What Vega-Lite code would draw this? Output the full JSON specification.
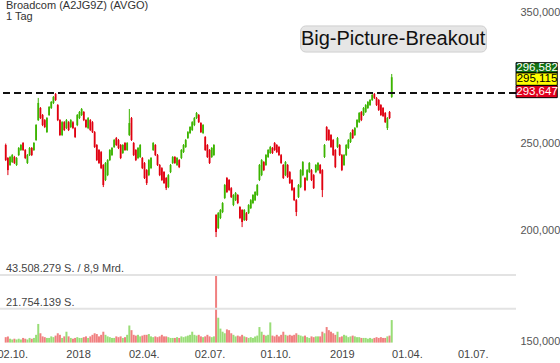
{
"$schema":"https://vega.github.io/schema/vega-lite/v6.json",
"width":516,"height":345,
"autosize":{"type":"none"},
"padding":{"left":0,"top":0,"right":44,"bottom":18},
"background":"white",
"config":{"view":{"stroke":null},"font":"Liberation Sans"},
"datasets":{"ohlc":[
{"d":"2017-09-23","o":249.1,"h":250.0,"l":239.0,"c":239.6,"v":3.5},
{"d":"2017-09-26","o":240.9,"h":241.5,"l":230.5,"c":233.5,"v":4},
{"d":"2017-09-29","o":236.6,"h":242.2,"l":236.0,"c":241.5,"v":2.5},
{"d":"2017-10-02","o":238.4,"h":243.4,"l":237.8,"c":242.7,"v":2},
{"d":"2017-10-05","o":241.5,"h":242.2,"l":237.2,"c":237.8,"v":2.5},
{"d":"2017-10-08","o":236.6,"h":241.5,"l":236.0,"c":240.9,"v":2},
{"d":"2017-10-11","o":242.7,"h":247.8,"l":242.1,"c":247.2,"v":2.5},
{"d":"2017-10-14","o":245.9,"h":249.7,"l":245.3,"c":249.1,"v":2},
{"d":"2017-10-17","o":250.4,"h":251.0,"l":245.3,"c":245.9,"v":3},
{"d":"2017-10-20","o":245.9,"h":246.5,"l":240.2,"c":240.9,"v":2.5},
{"d":"2017-10-23","o":237.8,"h":243.4,"l":237.2,"c":242.7,"v":2},
{"d":"2017-10-26","o":242.7,"h":247.8,"l":242.1,"c":247.2,"v":3},
{"d":"2017-10-29","o":247.2,"h":247.8,"l":242.1,"c":242.7,"v":2.5},
{"d":"2017-11-01","o":245.9,"h":251.0,"l":245.3,"c":250.4,"v":3},
{"d":"2017-11-04","o":252.3,"h":262.9,"l":251.7,"c":262.2,"v":5},
{"d":"2017-11-07","o":265.6,"h":281.2,"l":265.0,"c":277.6,"v":12},
{"d":"2017-11-10","o":274.0,"h":274.7,"l":266.3,"c":267.0,"v":6},
{"d":"2017-11-13","o":269.1,"h":269.8,"l":261.5,"c":262.2,"v":4},
{"d":"2017-11-16","o":265.6,"h":266.3,"l":260.2,"c":260.9,"v":3.5},
{"d":"2017-11-19","o":257.5,"h":267.7,"l":256.9,"c":267.0,"v":3},
{"d":"2017-11-22","o":269.1,"h":275.4,"l":268.4,"c":274.7,"v":3},
{"d":"2017-11-25","o":274.0,"h":279.0,"l":273.3,"c":278.3,"v":4},
{"d":"2017-11-28","o":277.6,"h":282.6,"l":276.8,"c":281.9,"v":3.5},
{"d":"2017-12-01","o":284.0,"h":284.8,"l":279.0,"c":279.7,"v":4.5},
{"d":"2017-12-04","o":276.1,"h":276.8,"l":264.9,"c":265.6,"v":6},
{"d":"2017-12-07","o":265.6,"h":266.3,"l":254.9,"c":255.6,"v":5},
{"d":"2017-12-10","o":255.6,"h":264.9,"l":254.9,"c":264.2,"v":3},
{"d":"2017-12-13","o":264.2,"h":264.9,"l":258.2,"c":258.9,"v":4},
{"d":"2017-12-16","o":260.2,"h":266.3,"l":259.5,"c":265.6,"v":7},
{"d":"2017-12-19","o":264.2,"h":264.9,"l":258.2,"c":258.9,"v":4},
{"d":"2017-12-22","o":260.9,"h":266.3,"l":260.2,"c":265.6,"v":3},
{"d":"2017-12-25","o":264.2,"h":264.9,"l":259.5,"c":260.2,"v":2.5},
{"d":"2017-12-28","o":260.2,"h":260.9,"l":253.6,"c":254.3,"v":3},
{"d":"2017-12-31","o":262.2,"h":269.8,"l":261.5,"c":269.1,"v":3.5},
{"d":"2018-01-03","o":267.0,"h":271.9,"l":266.3,"c":271.2,"v":3},
{"d":"2018-01-06","o":269.1,"h":274.0,"l":268.4,"c":273.3,"v":3},
{"d":"2018-01-09","o":271.2,"h":271.9,"l":264.9,"c":265.6,"v":3.5},
{"d":"2018-01-12","o":265.6,"h":266.3,"l":260.2,"c":260.9,"v":4},
{"d":"2018-01-15","o":260.2,"h":267.7,"l":259.5,"c":267.0,"v":3},
{"d":"2018-01-18","o":265.6,"h":266.3,"l":258.2,"c":258.9,"v":4},
{"d":"2018-01-21","o":264.2,"h":264.9,"l":256.9,"c":257.5,"v":5},
{"d":"2018-01-24","o":257.5,"h":258.2,"l":247.2,"c":247.8,"v":6},
{"d":"2018-01-27","o":249.1,"h":249.7,"l":239.0,"c":239.6,"v":5.5},
{"d":"2018-01-30","o":245.9,"h":246.5,"l":237.2,"c":237.8,"v":4},
{"d":"2018-02-02","o":244.6,"h":245.3,"l":234.1,"c":234.7,"v":5},
{"d":"2018-02-05","o":236.6,"h":237.2,"l":223.5,"c":224.7,"v":7},
{"d":"2018-02-08","o":227.6,"h":238.4,"l":227.0,"c":237.8,"v":5},
{"d":"2018-02-11","o":230.5,"h":240.2,"l":229.9,"c":239.6,"v":4},
{"d":"2018-02-14","o":239.6,"h":246.5,"l":239.0,"c":245.9,"v":3.5},
{"d":"2018-02-17","o":242.7,"h":247.8,"l":242.1,"c":247.2,"v":3},
{"d":"2018-02-20","o":247.8,"h":253.0,"l":247.2,"c":252.3,"v":3},
{"d":"2018-02-23","o":253.6,"h":254.3,"l":248.5,"c":249.1,"v":4},
{"d":"2018-02-26","o":252.3,"h":253.0,"l":246.5,"c":247.2,"v":3.5},
{"d":"2018-03-01","o":249.1,"h":249.7,"l":240.2,"c":240.9,"v":4},
{"d":"2018-03-04","o":244.0,"h":249.7,"l":243.4,"c":249.1,"v":3},
{"d":"2018-03-07","o":250.4,"h":251.0,"l":245.3,"c":245.9,"v":3.5},
{"d":"2018-03-10","o":245.9,"h":251.0,"l":245.3,"c":250.4,"v":5},
{"d":"2018-03-13","o":255.6,"h":273.3,"l":254.9,"c":263.6,"v":11},
{"d":"2018-03-16","o":267.0,"h":267.7,"l":251.7,"c":252.3,"v":8},
{"d":"2018-03-19","o":250.4,"h":251.0,"l":242.1,"c":242.7,"v":5},
{"d":"2018-03-22","o":245.9,"h":246.5,"l":239.0,"c":239.6,"v":4.5},
{"d":"2018-03-25","o":240.9,"h":247.8,"l":240.2,"c":247.2,"v":5},
{"d":"2018-03-28","o":241.5,"h":249.7,"l":240.9,"c":249.1,"v":4},
{"d":"2018-03-31","o":240.9,"h":241.5,"l":234.1,"c":234.7,"v":4.5},
{"d":"2018-04-03","o":237.8,"h":238.4,"l":228.2,"c":228.8,"v":5},
{"d":"2018-04-06","o":233.5,"h":234.1,"l":224.7,"c":225.8,"v":5},
{"d":"2018-04-09","o":230.5,"h":240.2,"l":229.9,"c":239.6,"v":5.5},
{"d":"2018-04-12","o":234.7,"h":241.5,"l":234.1,"c":240.9,"v":4},
{"d":"2018-04-15","o":245.9,"h":251.0,"l":245.3,"c":250.4,"v":3.5},
{"d":"2018-04-18","o":249.1,"h":249.7,"l":242.1,"c":242.7,"v":4},
{"d":"2018-04-21","o":242.7,"h":243.4,"l":236.0,"c":236.6,"v":3.5},
{"d":"2018-04-24","o":236.6,"h":237.2,"l":229.9,"c":230.5,"v":4},
{"d":"2018-04-27","o":234.7,"h":235.3,"l":227.0,"c":227.6,"v":5},
{"d":"2018-04-30","o":232.3,"h":232.9,"l":225.3,"c":225.8,"v":4},
{"d":"2018-05-03","o":228.8,"h":229.4,"l":221.8,"c":222.9,"v":4},
{"d":"2018-05-06","o":223.5,"h":231.1,"l":222.9,"c":230.5,"v":3.5},
{"d":"2018-05-09","o":232.3,"h":237.2,"l":231.7,"c":236.6,"v":3},
{"d":"2018-05-12","o":237.8,"h":242.1,"l":237.2,"c":241.5,"v":3},
{"d":"2018-05-15","o":241.5,"h":242.1,"l":237.2,"c":237.8,"v":3},
{"d":"2018-05-18","o":236.6,"h":241.5,"l":236.0,"c":240.9,"v":3.5},
{"d":"2018-05-21","o":239.6,"h":240.2,"l":234.7,"c":235.3,"v":3},
{"d":"2018-05-24","o":240.9,"h":246.5,"l":240.2,"c":245.9,"v":4},
{"d":"2018-05-27","o":244.6,"h":249.7,"l":244.0,"c":249.1,"v":3.5},
{"d":"2018-05-30","o":247.8,"h":253.0,"l":247.2,"c":252.3,"v":4},
{"d":"2018-06-02","o":253.6,"h":258.2,"l":253.0,"c":257.5,"v":4.5},
{"d":"2018-06-05","o":256.9,"h":261.5,"l":256.2,"c":260.9,"v":5},
{"d":"2018-06-08","o":258.9,"h":264.9,"l":258.2,"c":264.2,"v":7},
{"d":"2018-06-11","o":262.2,"h":267.7,"l":261.5,"c":267.0,"v":5},
{"d":"2018-06-14","o":267.0,"h":271.2,"l":266.3,"c":270.5,"v":4.5},
{"d":"2018-06-17","o":269.1,"h":269.8,"l":263.6,"c":264.2,"v":5},
{"d":"2018-06-20","o":263.6,"h":264.2,"l":256.9,"c":257.5,"v":4},
{"d":"2018-06-23","o":256.9,"h":262.9,"l":256.2,"c":262.2,"v":3.5},
{"d":"2018-06-26","o":254.3,"h":254.9,"l":245.3,"c":245.9,"v":4},
{"d":"2018-06-29","o":249.1,"h":249.7,"l":240.9,"c":241.5,"v":5},
{"d":"2018-07-02","o":245.9,"h":246.5,"l":237.2,"c":237.8,"v":4},
{"d":"2018-07-05","o":241.5,"h":247.8,"l":240.9,"c":247.2,"v":3.5},
{"d":"2018-07-08","o":242.7,"h":249.7,"l":242.1,"c":249.1,"v":4},
{"d":"2018-07-11","o":208.0,"h":208.5,"l":196.5,"c":199.1,"v":43.5},
{"d":"2018-07-14","o":201.1,"h":209.6,"l":200.6,"c":209.0,"v":16},
{"d":"2018-07-17","o":206.4,"h":211.2,"l":205.8,"c":210.7,"v":9},
{"d":"2018-07-20","o":209.6,"h":215.0,"l":209.0,"c":214.5,"v":7},
{"d":"2018-07-23","o":217.3,"h":225.3,"l":216.7,"c":224.7,"v":6},
{"d":"2018-07-26","o":228.8,"h":229.4,"l":220.1,"c":220.7,"v":8.5},
{"d":"2018-07-29","o":227.6,"h":228.2,"l":221.2,"c":221.8,"v":8},
{"d":"2018-08-01","o":222.9,"h":223.5,"l":217.3,"c":217.8,"v":6},
{"d":"2018-08-04","o":213.4,"h":219.5,"l":212.8,"c":219.0,"v":5},
{"d":"2018-08-07","o":216.1,"h":220.7,"l":215.6,"c":220.1,"v":4},
{"d":"2018-08-10","o":219.0,"h":219.5,"l":213.9,"c":214.5,"v":4.5},
{"d":"2018-08-13","o":212.3,"h":212.8,"l":205.8,"c":206.4,"v":4},
{"d":"2018-08-16","o":210.7,"h":211.2,"l":201.6,"c":204.3,"v":5},
{"d":"2018-08-19","o":205.3,"h":211.2,"l":204.8,"c":210.7,"v":4},
{"d":"2018-08-22","o":209.0,"h":209.6,"l":204.8,"c":205.3,"v":3.5},
{"d":"2018-08-25","o":209.0,"h":213.9,"l":208.5,"c":213.4,"v":3},
{"d":"2018-08-28","o":211.7,"h":216.7,"l":211.2,"c":216.1,"v":3.5},
{"d":"2018-08-31","o":214.5,"h":219.5,"l":213.9,"c":219.0,"v":3},
{"d":"2018-09-03","o":216.1,"h":221.2,"l":215.6,"c":220.7,"v":4},
{"d":"2018-09-06","o":219.0,"h":225.3,"l":218.4,"c":224.7,"v":4.5},
{"d":"2018-09-09","o":227.6,"h":237.2,"l":227.0,"c":236.6,"v":10},
{"d":"2018-09-12","o":230.5,"h":240.2,"l":229.9,"c":239.6,"v":7},
{"d":"2018-09-15","o":238.4,"h":239.0,"l":232.9,"c":233.5,"v":5},
{"d":"2018-09-18","o":236.6,"h":243.4,"l":236.0,"c":242.7,"v":4.5},
{"d":"2018-09-21","o":241.5,"h":246.5,"l":240.9,"c":245.9,"v":5},
{"d":"2018-09-24","o":244.0,"h":248.5,"l":243.4,"c":247.8,"v":13},
{"d":"2018-09-27","o":247.2,"h":247.8,"l":243.4,"c":244.0,"v":4.5},
{"d":"2018-09-30","o":250.4,"h":251.0,"l":245.3,"c":245.9,"v":4},
{"d":"2018-10-03","o":249.1,"h":249.7,"l":244.0,"c":244.6,"v":5},
{"d":"2018-10-06","o":247.8,"h":248.5,"l":242.1,"c":242.7,"v":4},
{"d":"2018-10-09","o":242.7,"h":243.4,"l":237.2,"c":237.8,"v":5},
{"d":"2018-10-12","o":236.6,"h":237.2,"l":228.2,"c":228.8,"v":7},
{"d":"2018-10-15","o":230.5,"h":239.0,"l":229.9,"c":238.4,"v":5},
{"d":"2018-10-18","o":236.6,"h":237.2,"l":228.8,"c":229.4,"v":4.5},
{"d":"2018-10-21","o":232.3,"h":232.9,"l":225.3,"c":225.8,"v":5},
{"d":"2018-10-24","o":227.6,"h":228.2,"l":221.2,"c":221.8,"v":4.5},
{"d":"2018-10-27","o":222.9,"h":223.5,"l":215.6,"c":216.1,"v":5},
{"d":"2018-10-30","o":216.1,"h":216.7,"l":207.4,"c":209.6,"v":6},
{"d":"2018-11-02","o":217.8,"h":225.3,"l":217.3,"c":224.7,"v":5},
{"d":"2018-11-05","o":223.5,"h":234.1,"l":222.9,"c":233.5,"v":4.5},
{"d":"2018-11-08","o":230.5,"h":239.0,"l":229.9,"c":238.4,"v":4},
{"d":"2018-11-11","o":228.8,"h":229.4,"l":221.2,"c":221.8,"v":4.5},
{"d":"2018-11-14","o":227.6,"h":234.1,"l":227.0,"c":233.5,"v":3.5},
{"d":"2018-11-17","o":232.3,"h":238.4,"l":231.7,"c":237.8,"v":3},
{"d":"2018-11-20","o":233.5,"h":234.1,"l":227.0,"c":227.6,"v":4},
{"d":"2018-11-23","o":230.5,"h":231.1,"l":222.4,"c":222.9,"v":3.5},
{"d":"2018-11-26","o":232.3,"h":237.2,"l":231.7,"c":236.6,"v":4},
{"d":"2018-11-29","o":233.5,"h":238.4,"l":232.9,"c":237.8,"v":4},
{"d":"2018-12-02","o":236.6,"h":237.2,"l":231.1,"c":231.7,"v":4},
{"d":"2018-12-05","o":233.5,"h":234.1,"l":217.8,"c":221.8,"v":7},
{"d":"2018-12-08","o":241.5,"h":249.7,"l":240.9,"c":249.1,"v":6},
{"d":"2018-12-11","o":260.9,"h":261.5,"l":251.7,"c":252.3,"v":10},
{"d":"2018-12-14","o":258.9,"h":259.5,"l":251.7,"c":252.3,"v":8},
{"d":"2018-12-17","o":255.6,"h":256.2,"l":247.2,"c":247.8,"v":7},
{"d":"2018-12-20","o":252.3,"h":253.0,"l":242.1,"c":242.7,"v":6},
{"d":"2018-12-23","o":245.9,"h":246.5,"l":234.7,"c":235.3,"v":5},
{"d":"2018-12-26","o":247.8,"h":254.3,"l":247.2,"c":253.6,"v":7},
{"d":"2018-12-29","o":249.1,"h":249.7,"l":242.1,"c":242.7,"v":3.5},
{"d":"2019-01-01","o":242.7,"h":243.4,"l":232.9,"c":233.5,"v":4},
{"d":"2019-01-04","o":236.6,"h":243.4,"l":236.0,"c":242.7,"v":5},
{"d":"2019-01-07","o":242.7,"h":249.7,"l":242.1,"c":249.1,"v":4.5},
{"d":"2019-01-10","o":247.2,"h":253.0,"l":246.5,"c":252.3,"v":3.5},
{"d":"2019-01-13","o":251.0,"h":257.5,"l":250.4,"c":256.9,"v":4},
{"d":"2019-01-16","o":258.9,"h":259.5,"l":253.0,"c":253.6,"v":4.5},
{"d":"2019-01-19","o":255.6,"h":260.9,"l":254.9,"c":260.2,"v":4},
{"d":"2019-01-22","o":260.9,"h":266.3,"l":260.2,"c":265.6,"v":3.5},
{"d":"2019-01-25","o":264.2,"h":271.2,"l":263.6,"c":270.5,"v":3.5},
{"d":"2019-01-28","o":271.2,"h":271.9,"l":264.9,"c":265.6,"v":3},
{"d":"2019-01-31","o":269.1,"h":274.7,"l":268.4,"c":274.0,"v":3},
{"d":"2019-02-03","o":271.2,"h":276.8,"l":270.5,"c":276.1,"v":3},
{"d":"2019-02-06","o":274.0,"h":279.0,"l":273.3,"c":278.3,"v":2.5},
{"d":"2019-02-09","o":276.1,"h":280.4,"l":275.4,"c":279.7,"v":3},
{"d":"2019-02-12","o":279.7,"h":284.1,"l":279.0,"c":283.4,"v":2.5},
{"d":"2019-02-15","o":284.1,"h":284.8,"l":280.4,"c":281.2,"v":3},
{"d":"2019-02-18","o":281.2,"h":281.9,"l":275.4,"c":276.1,"v":3.5},
{"d":"2019-02-21","o":279.7,"h":280.4,"l":271.9,"c":272.6,"v":3},
{"d":"2019-02-24","o":276.1,"h":276.8,"l":268.4,"c":269.1,"v":3.5},
{"d":"2019-02-27","o":274.0,"h":274.7,"l":267.7,"c":268.4,"v":3},
{"d":"2019-03-02","o":270.5,"h":271.2,"l":263.6,"c":264.2,"v":3},
{"d":"2019-03-05","o":260.2,"h":267.7,"l":258.9,"c":267.0,"v":4},
{"d":"2019-03-08","o":271.2,"h":271.9,"l":266.3,"c":267.0,"v":4.5},
{"d":"2019-03-11","o":281.9,"h":299.1,"l":281.2,"c":296.6,"v":14.5}
]},
"layer":[
{"data":{"name":"ohlc"},
 "mark":{"type":"bar","width":2},
 "encoding":{
  "x":{"field":"d","type":"temporal","scale":{"domain":[{"year":2017,"month":9,"date":22},{"year":2019,"month":8,"date":23}]},
   "axis":{"orient":"bottom","title":null,"ticks":false,"domain":false,"grid":false,"labelFontSize":11,"labelColor":"#444","labelPadding":3,"labelFlush":false,"labelOverlap":false,
    "values":[{"year":2017,"month":10,"date":2},{"year":2018,"month":1,"date":1},{"year":2018,"month":4,"date":2},{"year":2018,"month":7,"date":2},{"year":2018,"month":10,"date":1},{"year":2019,"month":1,"date":1},{"year":2019,"month":4,"date":1},{"year":2019,"month":7,"date":1}],
    "labelExpr":"month(datum.value)==0 ? timeFormat(datum.value,'%Y') : timeFormat(datum.value,'%d.%m.')"}},
  "y":{"field":"v","type":"quantitative","scale":{"domain":[-1.55,220.5],"nice":false,"zero":false},"axis":null},
  "y2":{"datum":0},
  "color":{"condition":{"test":"datum.c >= datum.o","value":"#99dd77"},"value":"#f08080"}}},
{"data":{"values":[{"g":43.508279},{"g":21.754139}]},
 "mark":{"type":"rule","color":"#e3e3e3","strokeWidth":2},
 "encoding":{"y":{"field":"g","type":"quantitative","scale":{"domain":[-1.55,220.5],"nice":false,"zero":false},"axis":null}}},
{"data":{"values":[{"g":43.508279,"t":"43.508.279 S. / 8,9 Mrd."},{"g":21.754139,"t":"21.754.139 S."}]},
 "mark":{"type":"text","align":"left","baseline":"alphabetic","dy":-3,"dx":1,"fontSize":11,"color":"#444"},
 "encoding":{
  "x":{"datum":{"year":2017,"month":9,"date":22},"type":"temporal"},
  "y":{"field":"g","type":"quantitative","scale":{"domain":[-1.55,220.5],"nice":false,"zero":false},"axis":null},
  "text":{"field":"t"}}},
{"data":{"name":"ohlc"},
 "mark":{"type":"rule","strokeWidth":1},
 "encoding":{
  "x":{"field":"d","type":"temporal"},
  "y":{"field":"l","type":"quantitative","scale":{"type":"log","domain":[148.8,361.9],"nice":false},
   "axis":{"orient":"right","title":null,"ticks":false,"domain":false,"grid":false,"labelFontSize":11,"labelColor":"#555","labelPadding":4,"values":[150,200,250,350],
    "labelExpr":"replace(format(datum.value,'.3f'),'.',',')"}},
  "y2":{"field":"h"},
  "color":{"condition":{"test":"datum.c >= datum.o","value":"#3cb400"},"value":"#e00010"}}},
{"data":{"name":"ohlc"},
 "mark":{"type":"bar","width":1.8},
 "encoding":{
  "x":{"field":"d","type":"temporal"},
  "y":{"field":"o","type":"quantitative","scale":{"type":"log","domain":[148.8,361.9],"nice":false},"axis":null},
  "y2":{"field":"c"},
  "color":{"condition":{"test":"datum.c >= datum.o","value":"#3cb400"},"value":"#e00010"}}},
{"data":{"values":[{"p":284.8}]},
 "mark":{"type":"rule","color":"#111","strokeWidth":2,"strokeDash":[7,4]},
 "encoding":{"y":{"field":"p","type":"quantitative","scale":{"type":"log","domain":[148.8,361.9],"nice":false},"axis":null}}},
{"data":{"values":[{"t":"Big-Picture-Breakout"}]},
 "mark":{"type":"rect","fill":"#e6e6e6","stroke":"#cfcfcf","strokeWidth":1,"cornerRadius":5},
 "encoding":{
  "x":{"datum":{"year":2018,"month":11,"date":5},"type":"temporal"},
  "x2":{"datum":{"year":2019,"month":7,"date":20}},
  "y":{"datum":338.5,"type":"quantitative","scale":{"type":"log","domain":[148.8,361.9],"nice":false},"axis":null},
  "y2":{"datum":316.5}}},
{"data":{"values":[{"t":"Big-Picture-Breakout"}]},
 "mark":{"type":"text","align":"center","baseline":"middle","fontSize":20,"color":"#111"},
 "encoding":{
  "x":{"datum":{"year":2019,"month":3,"date":13},"type":"temporal"},
  "y":{"datum":327.3,"type":"quantitative","scale":{"type":"log","domain":[148.8,361.9],"nice":false},"axis":null},
  "text":{"field":"t"}}},
{"data":{"values":[{"t":"Broadcom (A2JG9Z) (AVGO)","p":353.4},{"t":"1 Tag","p":343.6}]},
 "mark":{"type":"text","align":"left","baseline":"alphabetic","dx":1,"fontSize":11,"color":"#333"},
 "encoding":{
  "x":{"datum":{"year":2017,"month":9,"date":22},"type":"temporal"},
  "y":{"field":"p","type":"quantitative","scale":{"type":"log","domain":[148.8,361.9],"nice":false},"axis":null},
  "text":{"field":"t"}}},
{"data":{"values":[{"t":"296,582","a":307.9,"b":299.9,"bg":"g"},{"t":"295,115","a":299.9,"b":290.5,"bg":"y"},{"t":"293,647","a":290.3,"b":281.4,"bg":"r"}]},
 "mark":{"type":"rect","stroke":"#000","strokeWidth":1},
 "encoding":{
  "x":{"datum":{"year":2019,"month":8,"date":30},"type":"temporal"},
  "x2":{"datum":{"year":2019,"month":10,"date":26}},
  "y":{"field":"a","type":"quantitative","scale":{"type":"log","domain":[148.8,361.9],"nice":false},"axis":null},
  "y2":{"field":"b"},
  "fill":{"field":"bg","type":"nominal","scale":{"domain":["g","y","r"],"range":["#137313","#ffff00","#e1001e"]},"legend":null}}},
{"data":{"values":[{"t":"296,582","m":303.7,"bg":"g"},{"t":"295,115","m":295.2,"bg":"y"},{"t":"293,647","m":285.8,"bg":"r"}]},
 "mark":{"type":"text","align":"center","baseline":"middle","fontSize":11.5},
 "encoding":{
  "x":{"datum":{"year":2019,"month":9,"date":28},"type":"temporal"},
  "y":{"field":"m","type":"quantitative","scale":{"type":"log","domain":[148.8,361.9],"nice":false},"axis":null},
  "text":{"field":"t"},
  "color":{"field":"bg","type":"nominal","scale":{"domain":["g","y","r"],"range":["#ffffff","#000000","#ffffff"]},"legend":null}}}
],
"resolve":{"scale":{"y":"independent"},"axis":{"y":"independent"}}
}
